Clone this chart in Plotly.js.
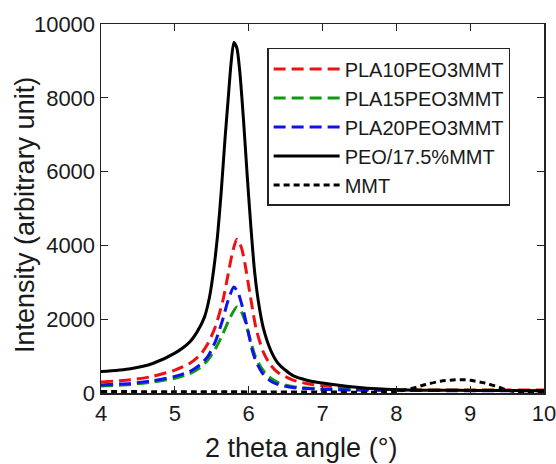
<!DOCTYPE html>
<html><head><meta charset="utf-8">
<script src="https://cdn.plot.ly/plotly-3.0.1.min.js"></script>
<style>body{margin:0;background:#fff}#c{width:556px;height:464px}</style>
</head><body><div id="c"></div>
<script>
const seriesNames = ["PLA10PEO3MMT","PLA15PEO3MMT","PLA20PEO3MMT","PEO/17.5%MMT","MMT"];
const xTitle = "2 theta angle (°)";
const yTitle = "Intensity (arbitrary unit)";

const xPEO = [4.0,4.4,4.7,5.0,5.2,5.3,5.4,5.47,5.53,5.58,5.63,5.68,5.72,5.76,5.8,5.84,5.88,5.93,5.98,6.03,6.08,6.13,6.2,6.3,6.4,6.6,6.8,7.0,7.3,7.6,8.0,9.0,10.0];
const yPEO = [580,660,800,1080,1380,1650,2050,2600,3400,4300,5500,6900,7900,8900,9500,9350,8700,7400,5900,4500,3300,2500,1750,1150,800,470,340,270,190,130,90,70,60];

const xPLA10 = [4.0,4.4,4.7,5.0,5.2,5.35,5.45,5.55,5.65,5.72,5.78,5.84,5.9,5.95,6.0,6.05,6.1,6.2,6.3,6.4,6.6,6.8,7.0,7.5,8.0,9.0,10.0];
const yPLA10 = [300,360,450,620,800,1050,1350,1800,2500,3200,3800,4170,3950,3500,2900,2300,1750,1100,750,550,350,250,200,120,90,80,80];

const xPLA15 = [4.0,4.4,4.7,5.0,5.2,5.35,5.45,5.55,5.65,5.75,5.84,5.9,5.96,6.02,6.08,6.15,6.25,6.4,6.6,7.0,8.0,10.0];
const yPLA15 = [190,230,300,400,520,700,900,1200,1600,2050,2330,2200,1900,1450,1050,750,480,280,170,110,80,70];

const xPLA20 = [4.0,4.4,4.7,5.0,5.2,5.35,5.45,5.55,5.65,5.72,5.8,5.86,5.92,6.0,6.05,6.1,6.2,6.3,6.4,6.6,7.0,8.0,10.0];
const yPLA20 = [220,260,330,450,580,780,1000,1400,2000,2500,2870,2700,2300,1600,1150,850,500,320,230,150,100,70,60];

const xMMT = [4.0,5.0,6.0,7.0,7.8,8.0,8.2,8.4,8.6,8.8,8.9,9.0,9.2,9.4,9.5,9.6,10.0];
const yMMT = [40,35,30,25,25,40,120,230,320,360,360,345,270,150,80,40,30];

const colors = ["#ee1111","#119911","#1111ee","#000000","#000000"];
const xs = [xPLA10,xPLA15,xPLA20,xPEO,xMMT];
const ys = [yPLA10,yPLA15,yPLA20,yPEO,yMMT];
const dashes = ["12px,6px","12px,6px","12px,6px","solid","6px,4px"];

const traces = seriesNames.map((n,i)=>({
  x: xs[i], y: ys[i], name: n, type:"scatter", mode:"lines",
  line:{color:colors[i], width: 3, dash:dashes[i], shape:"spline", smoothing:0.7}
}));

const FONT = "Arial, 'Liberation Sans', sans-serif";
const layout = {
  width:556, height:464,
  margin:{l:101, r:12, t:24, b:71},
  paper_bgcolor:"#fff", plot_bgcolor:"#fff",
  font:{family:FONT, color:"#1a1a1a"},
  showlegend:true,
  legend:{x:0.375, y:0.935, xanchor:"left", yanchor:"top", bordercolor:"#222", borderwidth:1.5,
    bgcolor:"#fff", font:{size:20, color:"#1a1a1a"}, tracegroupgap:0, itemwidth:66},
  xaxis:{range:[4,10], dtick:1, ticks:"inside", ticklen:7, tickcolor:"#222", mirror:"ticks",
    showline:true, linecolor:"#222", linewidth:1.5, showgrid:false, zeroline:false,
    tickfont:{size:22}, ticklabeloverflow:"allow"},
  yaxis:{range:[0,10000], dtick:2000, tickformat:"d", ticks:"inside", ticklen:7, tickcolor:"#222", mirror:"ticks",
    showline:true, linecolor:"#222", linewidth:1.5, showgrid:false, zeroline:false,
    tickfont:{size:22}},
  annotations:[
    {text:xTitle, xref:"paper", yref:"paper", x:0.4515, y:-0.148, xanchor:"center", yanchor:"middle",
     showarrow:false, font:{size:27, family:FONT, color:"#1a1a1a"}},
    {text:yTitle, xref:"paper", yref:"paper", x:-0.172, y:0.482, xanchor:"center", yanchor:"middle",
     textangle:-90, showarrow:false, font:{size:27, family:FONT, color:"#1a1a1a"}}
  ]
};
Plotly.newPlot("c", traces, layout, {displayModeBar:false, staticPlot:true});
</script></body></html>
